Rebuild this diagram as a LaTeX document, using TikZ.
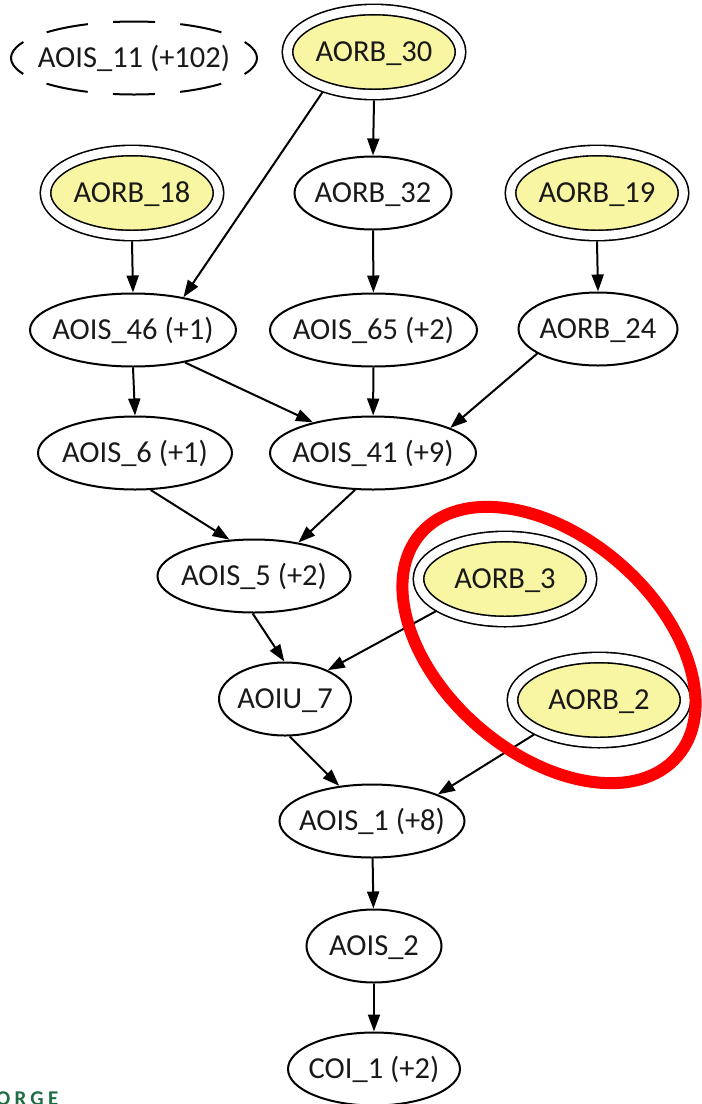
\documentclass[tikz,border=0pt]{standalone}
\usepackage{fontspec}
\setmainfont{Carlito}
\usetikzlibrary{shapes.geometric,arrows.meta}
\definecolor{nodeyellow}{HTML}{F8F6A2}
\definecolor{markred}{HTML}{FF0000}
\definecolor{logogreen}{HTML}{1E6E45}
% label of zero width, so the ellipse size comes from the style alone
\newcommand\ctext[1]{\makebox[0pt]{#1}}
\begin{document}
\begin{tikzpicture}[x=1pt,y=-1pt,
  every node/.style={font=\fontsize{30.5}{36}\selectfont, text=black!90,
    text height=19.5pt, text depth=0pt, inner sep=0pt},
  onering/.style={ellipse, draw, line width=2pt, minimum width=#1, minimum height=73pt},
  tworing/.style={ellipse, draw, fill=nodeyellow, line width=1.6pt, double=white,
    double distance=8.8pt, minimum width=173pt, minimum height=85pt, outer sep=6pt},
  dashring/.style={ellipse, draw, line width=2pt, dash pattern=on 42pt off 25.3pt,
    dash phase=21pt, minimum width=246pt, minimum height=73pt},
  link/.style={line width=2pt, -{Triangle[length=17pt,width=12pt]}}
]
\useasboundingbox (0,0) rectangle (702,1104);
\clip (0,0) rectangle (702,1104);

% nodes, row by row
\node[dashring] (aois11) at (134,58) {\ctext{AOIS\_11 (+102)}};
\node[tworing] (aorb30) at (374,52) {\ctext{AORB\_30}};

\node[tworing] (aorb18) at (132,193) {\ctext{AORB\_18}};
\node[onering=157pt] (aorb32) at (373,193) {\ctext{AORB\_32}};
\node[tworing] (aorb19) at (597,193) {\ctext{AORB\_19}};

\node[onering=206pt] (aois46) at (133,330) {\ctext{AOIS\_46 (+1)}};
\node[onering=207pt] (aois65) at (373.5,330) {\ctext{AOIS\_65 (+2)}};
\node[onering=159pt] (aorb24) at (598,329) {\ctext{AORB\_24}};

\node[onering=194pt] (aois6) at (135,453) {\ctext{AOIS\_6 (+1)}};
\node[onering=206pt] (aois41) at (373,453) {\ctext{AOIS\_41 (+9)}};

\node[onering=193pt] (aois5) at (254,576) {\ctext{AOIS\_5 (+2)}};
\node[tworing] (aorb3) at (505,579) {\ctext{AORB\_3}};

\node[onering=132pt] (aoiu7) at (285,699) {\ctext{AOIU\_7}};
\node[tworing] (aorb2) at (599,700) {\ctext{AORB\_2}};

\node[onering=185pt] (aois1) at (372,821) {\ctext{AOIS\_1 (+8)}};
\node[onering=135pt] (aois2) at (374,946) {\ctext{AOIS\_2}};
\node[onering=172pt] (coi1) at (374,1069) {\ctext{COI\_1 (+2)}};

% edges
\draw[link] (aorb30.south) -- (aorb32.north);
\draw[link] (aorb30.218) -- (aois46.33);
\draw[link] (aorb18.south) -- (aois46.north);
\draw[link] (aorb32) -- (aois65);
\draw[link] (aorb19.south) -- (aorb24.north);
\draw[link] (aois46.south) -- (aois6.north);
\draw[link] (aois46.328) -- (aois41.153);
\draw[link] (aois65) -- (aois41);
\draw[link] (aorb24.202) -- (aois41.18);
\draw[link] (aois6.293) -- (aois5.124);
\draw[link] (aois41.244) -- (aois5.37);
\draw[link] (aois5.268) -- (aoiu7.91);
\draw[link] (aorb3.205) -- (aoiu7.34);
\draw[link] (aoiu7.277) -- (aois1.133);
\draw[link] (aorb2.208) -- (aois1.22);
\draw[link] (aois1) -- (aois2);
\draw[link] (aois2) -- (coi1);

% highlight ring
\draw[markred, line width=12pt, rotate around={-41:(549,645)}]
  (549,645) ellipse [x radius=170, y radius=108];

% logo fragment at the lower edge
\node[font=\fontsize{21}{24}\selectfont\bfseries\addfontfeature{LetterSpace=20},
  text=logogreen, anchor=base west] (logo) at (-4,1105) {ORGE};
\end{tikzpicture}
\end{document}
